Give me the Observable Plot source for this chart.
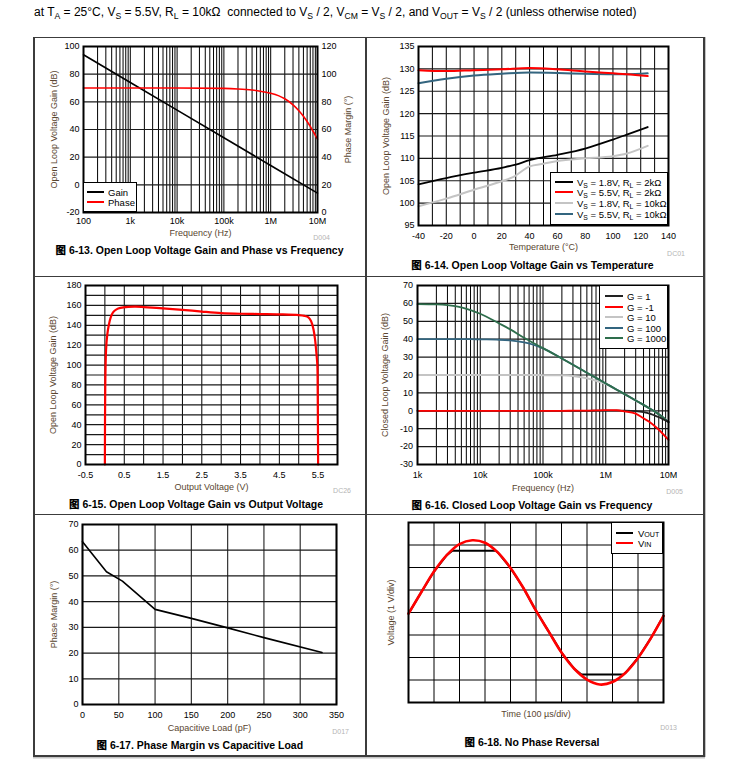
<!DOCTYPE html>
<html><head><meta charset="utf-8">
<script src="https://cdn.jsdelivr.net/npm/d3@7"></script>
<script src="https://cdn.jsdelivr.net/npm/@observablehq/plot@0.6"></script>
<style>
html,body{margin:0;padding:0;background:#fff;}
#page{position:relative;width:742px;height:768px;overflow:hidden;font-family:"Liberation Sans",Arial,sans-serif;color:#000;}
.abs{position:absolute;}
.hdr{left:34px;top:5px;font-size:12px;white-space:nowrap;}
sub{font-size:72%;vertical-align:-0.3em;line-height:0;}
.cap{position:absolute;font-weight:bold;font-size:10.5px;white-space:nowrap;transform:translate(-50%,-50%);}
.cap .fig{font-family:"Noto Sans CJK SC";font-weight:900;}
.code{position:absolute;font-size:7px;color:#b4b4b4;white-space:nowrap;transform:translate(-100%,-50%);}
.leg{position:absolute;background:#fff;border:1.5px solid #000;box-sizing:border-box;}
.lline{position:absolute;height:2px;}
.ltext{position:absolute;font-size:9.5px;white-space:nowrap;transform:translateY(-50%);}
.bl{position:absolute;background:#3c3c3c;}
svg g[aria-label="x-axis label"], svg g[aria-label="y-axis label"]{fill:#5a4630;}
</style>
</head><body>
<div id="page">
<div class="abs hdr">at T<sub>A</sub> = 25°C, V<sub>S</sub> = 5.5V, R<sub>L</sub> = 10kΩ&nbsp; connected to V<sub>S</sub> / 2, V<sub>CM</sub> = V<sub>S</sub> / 2, and V<sub>OUT</sub> = V<sub>S</sub> / 2 (unless otherwise noted)</div>
</div>
<script>
// ---------- data ----------
// Fig 6-13
const freqTicks = [1e2, 1e3, 1e4, 1e5, 1e6, 1e7];
const freqTickLabels = ["100", "1k", "10k", "100k", "1M", "10M"];
const minorMult = [1, 2, 3, 4, 5, 6, 7, 8, 9];
const olFreq = [1e2, 1e3, 1e4, 1e5, 1e6, 1e7];
const olGain = [94, 74, 54, 34, 14, -6];
const phFreq = [1e2, 1e3, 1e4, 1e5, 2e5, 4e5, 6e5, 8e5, 1e6, 1.5e6, 2e6, 3e6, 4e6, 5e6, 6e6, 7e6, 8e6, 9e6, 1e7];
const phDeg = [90, 90, 90, 89.7, 89.3, 88.5, 87.7, 86.9, 86.2, 84.3, 82.2, 77.8, 73.6, 69.6, 65.8, 62.2, 58.8, 55.8, 53];
const gainTicks13 = [-20, 0, 20, 40, 60, 80, 100];

// Fig 6-14
const tempTicks = [-40, -20, 0, 20, 40, 60, 80, 100, 120, 140];
const tempGrid = [-40, -30, -20, -10, 0, 10, 20, 30, 40, 50, 60, 70, 80, 90, 100, 110, 120, 130, 140];
const gainTicks14 = [95, 100, 105, 110, 115, 120, 125, 130, 135];
const t18_2k = [-40, -20, 0, 20, 30, 40, 60, 80, 100, 110, 125];
const g18_2k = [104.2, 105.6, 106.8, 107.9, 108.6, 109.6, 110.8, 112.2, 114.2, 115.3, 117];
const t55_2k = [-40, -20, 0, 20, 40, 60, 80, 100, 110, 125];
const g55_2k = [129.7, 129.5, 129.7, 129.9, 130.2, 129.9, 129.4, 129.0, 128.8, 128.4];
const t18_10k = [-40, -20, 0, 20, 28, 40, 50, 60, 80, 100, 110, 125];
const g18_10k = [99.3, 101, 103, 104.9, 105.8, 108.2, 108.8, 109.4, 110, 110.5, 111.1, 112.8];
const t55_10k = [-40, -20, 0, 20, 40, 60, 80, 100, 110, 125];
const g55_10k = [126.8, 127.8, 128.5, 128.9, 129.2, 129.1, 128.9, 128.8, 128.8, 129.0];

// Fig 6-15
const voutTicks = [-0.5, 0.5, 1.5, 2.5, 3.5, 4.5, 5.5];
const voutGrid = [-0.5, 0, 0.5, 1, 1.5, 2, 2.5, 3, 3.5, 4, 4.5, 5, 5.5, 6];
const gainTicks15 = [0, 20, 40, 60, 80, 100, 120, 140, 160, 180];
const gainGrid15 = [0, 10, 20, 30, 40, 50, 60, 70, 80, 90, 100, 110, 120, 130, 140, 150, 160, 170, 180];
const outV = [0, 0.01, 0.03, 0.06, 0.1, 0.15, 0.21, 0.3, 0.4, 0.6, 0.8, 1.0, 1.5, 2.0, 2.5, 3.0, 3.5, 4.0, 4.5, 5.0, 5.15, 5.25, 5.32, 5.38, 5.42, 5.46, 5.48, 5.49, 5.5];
const outGain = [0, 80, 115, 130, 140, 148, 153, 156, 157.5, 158.5, 158.7, 158.3, 157, 155.5, 153.8, 152.3, 151.6, 151.3, 151, 150.3, 149.5, 148, 144, 136, 126, 110, 100, 70, 0];

// Fig 6-16
const clTicks = [1e3, 1e4, 1e5, 1e6, 1e7];
const clTickLabels = ["1k", "10k", "100k", "1M", "10M"];
const clGainTicks = [-30, -20, -10, 0, 10, 20, 30, 40, 50, 60, 70];
const clFreq = [1e3, 2e3, 3e3, 5e3, 7e3, 1e4, 2e4, 3e4, 5e4, 7e4, 1e5, 2e5, 3e5, 5e5, 7e5, 1e6, 1.5e6, 2e6, 3e6, 4e6, 5e6, 6e6, 7e6, 1e7];
const clG1 = [0, 0, 0, 0, 0, 0, 0, 0, 0, 0, 0, 0, 0, 0, 0.05, 0.1, 0.15, 0.1, -0.2, -0.8, -1.6, -2.6, -3.5, -6.3];
const clGm1 = [0, 0, 0, 0, 0, 0, 0, 0, 0, 0, 0, 0, 0.05, 0.1, 0.2, 0.35, 0.3, -0.3, -1.6, -4.2, -6.3, -8.5, -10.6, -16.3];
const clG10 = [20, 20, 20, 20, 20, 20, 20, 20, 20, 20, 19.9, 19.8, 19.5, 18.2, 16.8, 14.9, 11.7, 9.3, 5.8, 3.3, 1.3, -0.4, -1.9, -6.3];
const clG100 = [40, 40, 40, 40, 40, 39.9, 39.7, 39.3, 38.2, 36.9, 34.9, 29.2, 25.7, 21.3, 18.4, 15.3, 11.8, 9.3, 5.8, 3.3, 1.3, -0.4, -1.9, -6.3];
const clG1000 = [59.6, 59.4, 59.0, 57.8, 56.3, 54.2, 48.8, 45.5, 40.8, 37.9, 35.0, 29.2, 25.7, 21.3, 18.4, 15.3, 11.8, 9.3, 5.8, 3.3, 1.3, -0.4, -1.9, -6.3];

// Fig 6-17
const capTicks = [0, 50, 100, 150, 200, 250, 300, 350];
const pmTicks = [0, 10, 20, 30, 40, 50, 60, 70];
const capLoad = [0, 33, 55, 100, 150, 200, 250, 330];
const phaseMargin = [63.3, 51.6, 48, 37, 33.5, 29.8, 26, 20.2];

// Fig 6-18
const timeGrid = [0, 1, 2, 3, 4, 5, 6, 7, 8, 9, 10];
const voltGrid = [-4, -3, -2, -1, 0, 1, 2, 3, 4];
const vinT = [0, 0.5, 1, 1.5, 2, 2.5, 3, 3.5, 4, 4.5, 5, 5.5, 6, 6.5, 7, 7.5, 8, 8.5, 9, 9.5, 10];
const vinV = [-0.05, 0.9, 1.82, 2.55, 3.04, 3.21, 3.1, 2.67, 1.98, 1.1, 0.08, -0.85, -1.78, -2.5, -2.98, -3.2, -3.09, -2.69, -2.02, -1.15, -0.15];
const voutT = [0, 0.5, 1, 1.5, 1.72, 2, 2.5, 3, 3.42, 3.5, 4, 4.5, 5, 5.5, 6, 6.5, 6.77, 7, 7.5, 8, 8.44, 8.5, 9, 9.5, 10];
const voutV = [-0.05, 0.9, 1.82, 2.55, 2.75, 2.75, 2.75, 2.75, 2.75, 2.67, 1.98, 1.1, 0.08, -0.85, -1.78, -2.5, -2.75, -2.75, -2.75, -2.75, -2.75, -2.69, -2.02, -1.15, -0.15];

// ---------- helpers ----------
const page = document.getElementById("page");
const logGrid = (ticks) => ticks.flatMap((d, i) => i === ticks.length - 1 ? [d] : minorMult.map(m => d * m));
const num = d => String(d);
const AX = o => Plot.axisX({tickSize: 0, labelAnchor: "center", labelArrow: "none", ...o});
const AY = o => Plot.axisY({tickSize: 0, labelAnchor: "center", labelArrow: "none", ...o});
const GX = (t, o = {}) => Plot.gridX(t, {stroke: "#000", strokeOpacity: 1, strokeWidth: 1, ...o});
const GY = (t, o = {}) => Plot.gridY(t, {stroke: "#1a1a1a", strokeOpacity: 1, strokeWidth: 1.2, ...o});
const FR = () => Plot.frame({stroke: "#000", strokeWidth: 2});

function panel({L, T, R, B, ml = 45, mr = 40, mt = 8, mb = 32, x, y, marks}) {
  const svg = Plot.plot({
    width: ml + (R - L) + mr, height: mt + (B - T) + mb,
    marginLeft: ml, marginRight: mr, marginTop: mt, marginBottom: mb,
    x, y, marks,
    style: {fontFamily: "'Liberation Sans', Arial, sans-serif", fontSize: "9px", overflow: "visible", background: "transparent", color: "#000"}
  });
  svg.style.position = "absolute";
  svg.style.left = (L - ml) + "px";
  svg.style.top = (T - mt) + "px";
  page.appendChild(svg);
}
function addDiv(cls, css, html) {
  const d = document.createElement("div");
  d.className = cls;
  Object.assign(d.style, css);
  if (html != null) d.innerHTML = html;
  page.appendChild(d);
  return d;
}
function legend(l, t, w, h, x1, x2, tx, rows) {
  addDiv("leg", {left: l + "px", top: t + "px", width: w + "px", height: h + "px"});
  rows.forEach(r => {
    addDiv("lline", {left: x1 + "px", top: (r.y - 1) + "px", width: (x2 - x1) + "px", background: r.color});
    addDiv("ltext", {left: tx + "px", top: r.y + "px"}, r.html);
  });
}
function caption(cx, cy, num, text) {
  addDiv("cap", {left: cx + "px", top: cy + "px"}, `<span class="fig">图</span> ${num}. ${text}`);
}
function code(rx, cy, text) {
  addDiv("code", {left: rx + "px", top: cy + "px"}, text);
}

// ---------- table borders ----------
addDiv("bl", {left: "33px", top: "36.5px", width: "672px", height: "1.5px"});
addDiv("bl", {left: "33px", top: "755px", width: "672px", height: "2px", boxShadow: "0 1.5px 0 #c4c4c4"});
addDiv("bl", {left: "33px", top: "36.5px", width: "1.5px", height: "720px"});
addDiv("bl", {left: "703px", top: "36.5px", width: "2px", height: "720px", boxShadow: "1px 0 0 #c4c4c4"});
addDiv("bl", {left: "365px", top: "36.5px", width: "1.5px", height: "720px"});
addDiv("bl", {left: "33px", top: "275.5px", width: "672px", height: "1.5px"});
addDiv("bl", {left: "33px", top: "513.5px", width: "672px", height: "1.5px"});

// ---------- Fig 6-13 ----------
const fmtFreq = d => freqTickLabels[freqTicks.indexOf(d)];
panel({
  L: 83, T: 46, R: 317, B: 212,
  x: {type: "log", domain: [1e2, 1e7]},
  y: {domain: [-20, 100]},
  marks: [
    GX(logGrid(freqTicks)),
    GY(gainTicks13),
    AX({ticks: freqTicks, tickFormat: fmtFreq, tickPadding: 5, label: "Frequency (Hz)", labelOffset: 23}),
    AY({ticks: gainTicks13, tickFormat: num, tickPadding: 4, label: "Open Loop Voltage Gain (dB)", labelOffset: 33}),
    AY({anchor: "right", ticks: gainTicks13, tickFormat: d => String(d + 20), tickPadding: 4, label: "Phase Margin (°)", labelOffset: 33}),
    Plot.line(olGain, {x: olFreq, y: olGain, stroke: "#000", strokeWidth: 1.6}),
    Plot.line(phDeg, {x: phFreq, y: phDeg.map(d => d - 20), stroke: "#ff0000", strokeWidth: 1.6, curve: "monotone-x"}),
    FR()
  ]
});
legend(83, 182, 54, 30, 87, 104, 108, [
  {y: 191.7, color: "#000", html: "Gain"},
  {y: 201.7, color: "#ff0000", html: "Phase"}
]);
code(330, 236.5, "D004");
caption(199.5, 249, "6-13", "Open Loop Voltage Gain and Phase vs Frequency");

// ---------- Fig 6-14 ----------
panel({
  L: 418, T: 46, R: 668, B: 225,
  x: {domain: [-40, 140]},
  y: {domain: [95, 135]},
  marks: [
    GX(tempGrid),
    GY(gainTicks14),
    AX({ticks: tempTicks, tickFormat: num, tickPadding: 7, label: "Temperature (°C)", labelOffset: 24.5}),
    AY({ticks: gainTicks14, tickFormat: num, tickPadding: 4, label: "Open Loop Voltage Gain (dB)", labelOffset: 36}),
    Plot.line(g18_10k, {x: t18_10k, y: g18_10k, stroke: "#c4c4c4", strokeWidth: 2, curve: "monotone-x"}),
    Plot.line(g18_2k, {x: t18_2k, y: g18_2k, stroke: "#000", strokeWidth: 1.8, curve: "monotone-x"}),
    Plot.line(g55_10k, {x: t55_10k, y: g55_10k, stroke: "#33657f", strokeWidth: 2, curve: "monotone-x"}),
    Plot.line(g55_2k, {x: t55_2k, y: g55_2k, stroke: "#ff0000", strokeWidth: 2, curve: "monotone-x"}),
    FR()
  ]
});
legend(550, 172, 118, 53, 555, 573, 577, [
  {y: 181.7, color: "#000", html: "V<sub>S</sub> = 1.8V, R<sub>L</sub> = 2kΩ"},
  {y: 192.2, color: "#ff0000", html: "V<sub>S</sub> = 5.5V, R<sub>L</sub> = 2kΩ"},
  {y: 202.8, color: "#c4c4c4", html: "V<sub>S</sub> = 1.8V, R<sub>L</sub> = 10kΩ"},
  {y: 213.5, color: "#33657f", html: "V<sub>S</sub> = 5.5V, R<sub>L</sub> = 10kΩ"}
]);
code(685, 253, "DC01");
caption(532.5, 264.3, "6-14", "Open Loop Voltage Gain vs Temperature");

// ---------- Fig 6-15 ----------
panel({
  L: 85, T: 285, R: 337, B: 464,
  x: {domain: [-0.5, 6]},
  y: {domain: [0, 180]},
  marks: [
    GX(voutGrid),
    GY(gainGrid15),
    AX({ticks: voutTicks, tickFormat: num, tickPadding: 7, label: "Output Voltage (V)", labelOffset: 25}),
    AY({ticks: gainTicks15, tickFormat: num, tickPadding: 4, label: "Open Loop Voltage Gain (dB)", labelOffset: 35.5}),
    Plot.line(outGain, {x: outV, y: outGain, stroke: "#ff0000", strokeWidth: 2.2, curve: "catmull-rom"}),
    FR()
  ]
});
code(351, 490, "DC26");
caption(196, 503.3, "6-15", "Open Loop Voltage Gain vs Output Voltage");

// ---------- Fig 6-16 ----------
const fmtCl = d => clTickLabels[clTicks.indexOf(d)];
panel({
  L: 417, T: 285, R: 668, B: 464,
  x: {type: "log", domain: [1e3, 1e7]},
  y: {domain: [-30, 70]},
  marks: [
    GX(logGrid(clTicks)),
    GY(clGainTicks),
    AX({ticks: clTicks, tickFormat: fmtCl, tickPadding: 7.5, label: "Frequency (Hz)", labelOffset: 26}),
    AY({ticks: clGainTicks, tickFormat: num, tickPadding: 4.5, label: "Closed Loop Voltage Gain (dB)", labelOffset: 36}),
    Plot.line(clG10, {x: clFreq, y: clG10, stroke: "#c4c4c4", strokeWidth: 2, curve: "monotone-x"}),
    Plot.line(clG100, {x: clFreq, y: clG100, stroke: "#33657f", strokeWidth: 1.8, curve: "monotone-x"}),
    Plot.line(clG1000, {x: clFreq, y: clG1000, stroke: "#2e6e4c", strokeWidth: 1.8, curve: "monotone-x"}),
    Plot.line(clG1, {x: clFreq, y: clG1, stroke: "#222", strokeWidth: 1.8, curve: "monotone-x"}),
    Plot.line(clGm1, {x: clFreq, y: clGm1, stroke: "#ff0000", strokeWidth: 1.8, curve: "monotone-x"}),
    FR()
  ]
});
legend(599, 285, 69, 64, 605, 623, 627, [
  {y: 295.7, color: "#222", html: "G = 1"},
  {y: 306.5, color: "#ff0000", html: "G = -1"},
  {y: 317.2, color: "#c4c4c4", html: "G = 10"},
  {y: 327.8, color: "#33657f", html: "G = 100"},
  {y: 338.4, color: "#2e6e4c", html: "G = 1000"}
]);
code(683, 491, "D005");
caption(532, 504.3, "6-16", "Closed Loop Voltage Gain vs Frequency");

// ---------- Fig 6-17 ----------
panel({
  L: 82, T: 524, R: 336, B: 704,
  x: {domain: [0, 350]},
  y: {domain: [0, 70]},
  marks: [
    GX(capTicks, {stroke: "#333", strokeWidth: 1.2}),
    GY(pmTicks),
    AX({ticks: capTicks, tickFormat: num, tickPadding: 7, label: "Capacitive Load (pF)", labelOffset: 26}),
    AY({ticks: pmTicks, tickFormat: num, tickPadding: 4, label: "Phase Margin (°)", labelOffset: 31.5}),
    Plot.line(phaseMargin, {x: capLoad, y: phaseMargin, stroke: "#000", strokeWidth: 1.6}),
    FR()
  ]
});
code(349, 731, "D017");
caption(199.8, 744.3, "6-17", "Phase Margin vs Capacitive Load");

// ---------- Fig 6-18 ----------
panel({
  L: 408, T: 522, R: 663, B: 702,
  x: {domain: [0, 10]},
  y: {domain: [-4, 4]},
  marks: [
    GX(timeGrid),
    GY(voltGrid, {stroke: "#000", strokeWidth: 1}),
    AX({ticks: timeGrid, tickFormat: () => "", label: "Time (100 µs/div)", labelOffset: 14.5}),
    AY({ticks: voltGrid, tickFormat: () => "", label: "Voltage (1 V/div)", labelOffset: 21}),
    Plot.line(voutV, {x: voutT, y: voutV, stroke: "#000", strokeWidth: 2}),
    Plot.line(vinV, {x: vinT, y: vinV, stroke: "#ff0000", strokeWidth: 2.6, curve: "catmull-rom"}),
    FR()
  ]
});
legend(611, 522, 52, 32, 616, 633, 638, [
  {y: 533.3, color: "#000", html: "V<span style='font-size:75%'>OUT</span>"},
  {y: 543.3, color: "#ff0000", html: "V<span style='font-size:75%'>IN</span>"}
]);
code(677, 727, "D013");
caption(532, 740.7, "6-18", "No Phase Reversal");
</script>
</body></html>
